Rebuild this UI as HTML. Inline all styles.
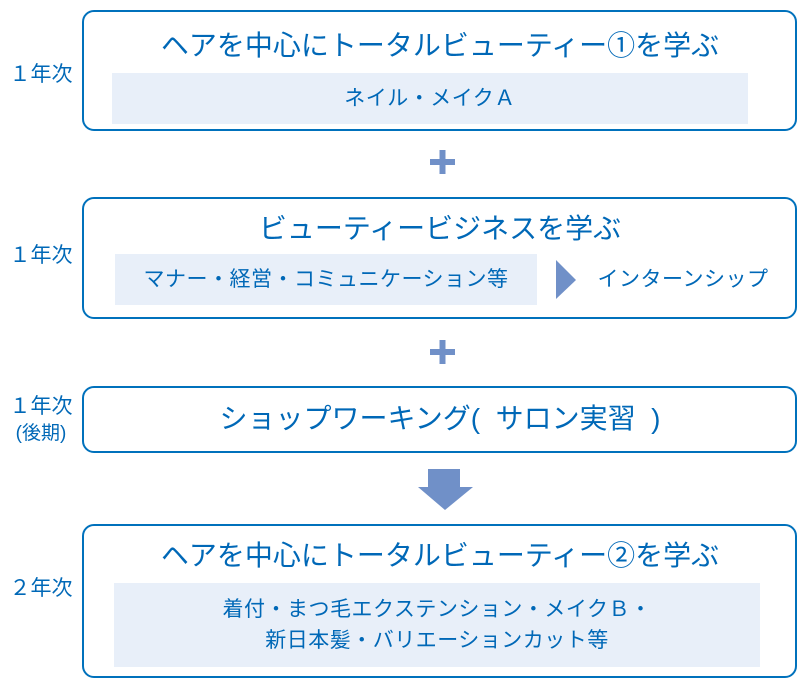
<!DOCTYPE html>
<html><head><meta charset="utf-8"><style>
body{margin:0;width:800px;height:684px;background:#fff;position:relative;overflow:hidden;font-family:"Liberation Sans","Noto Sans CJK JP",sans-serif;color:#0068b7}
.box{position:absolute;left:82px;width:715px;border:2px solid #0071bc;border-radius:12px;box-sizing:border-box}
.t{position:absolute;white-space:nowrap;text-align:center;font-weight:normal}
.in{position:absolute;background:#e8eff9}
.lab{position:absolute;left:0;width:82px;text-align:center;font-size:21px;line-height:26px}
</style></head><body>
<div class="box" style="top:10px;height:121px"></div>
<div class="t" style="left:82px;width:716px;top:28px;font-size:28px;line-height:36px">ヘアを中心にトータルビューティー①を学ぶ</div>
<div class="in" style="left:112px;top:73px;width:636px;height:51px"></div>
<div class="t" style="left:112px;width:636px;top:85px;font-size:21px;line-height:28px;letter-spacing:0.5px">ネイル・メイクＡ</div>
<div class="lab" style="top:62px">１年次</div>

<svg style="position:absolute;left:0;top:0" width="800" height="684">
<rect x="430" y="159" width="25" height="6" fill="#7090c8"/><rect x="439.5" y="150" width="6" height="24" fill="#7090c8"/>
<rect x="430" y="349" width="25" height="6" fill="#7090c8"/><rect x="439.5" y="340" width="6" height="24" fill="#7090c8"/>
<polygon points="556,260 576,280 556,299" fill="#7090c8"/>
<polygon points="428,469 460,469 460,487 473,487 445,510 418,487 428,487" fill="#7090c8"/>
</svg>

<div class="box" style="top:197px;height:122px"></div>
<div class="t" style="left:82px;width:716px;top:211px;font-size:28px;line-height:36px">ビューティービジネスを学ぶ</div>
<div class="in" style="left:115px;top:254px;width:422px;height:51px"></div>
<div class="t" style="left:115px;width:422px;top:266px;font-size:21px;line-height:28px;letter-spacing:0.5px">マナー・経営・コミュニケーション等</div>
<div class="t" style="left:590px;width:186px;top:266px;font-size:21px;line-height:28px;letter-spacing:0.5px">インターンシップ</div>
<div class="lab" style="top:243px">１年次</div>

<div class="box" style="top:386px;height:67px"></div>
<div class="t" style="left:82px;width:716px;top:401px;font-size:28px;line-height:36px">ショップワーキング(&nbsp;&nbsp;サロン実習&nbsp;&nbsp;)</div>
<div class="lab" style="top:394px">１年次<br><span style="font-size:19px">(後期)</span></div>

<div class="box" style="top:524px;height:154px"></div>
<div class="t" style="left:82px;width:716px;top:538px;font-size:28px;line-height:36px">ヘアを中心にトータルビューティー②を学ぶ</div>
<div class="in" style="left:114px;top:583px;width:646px;height:84px"></div>
<div class="t" style="left:114px;width:646px;top:594px;font-size:21px;line-height:31px;letter-spacing:0.5px">着付・まつ毛エクステンション・メイクＢ・<br>新日本髪・バリエーションカット等</div>
<div class="lab" style="top:576px">２年次</div>
</body></html>
